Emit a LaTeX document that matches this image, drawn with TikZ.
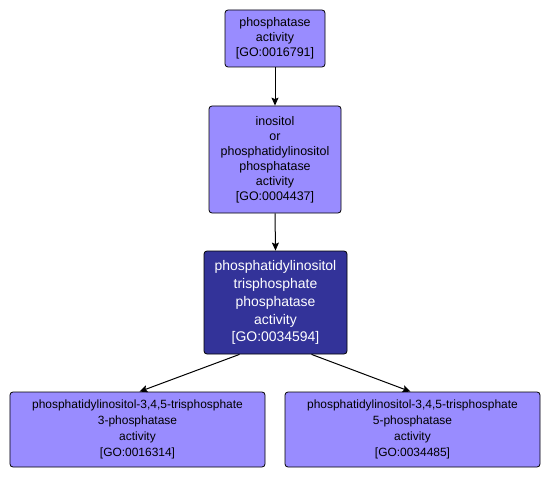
\documentclass[tikz,border=0pt]{standalone}
\usepackage{fontspec}
\setmainfont{Liberation Sans}
\usetikzlibrary{arrows.meta,positioning}
\definecolor{termfill}{RGB}{153,140,255}
\definecolor{focusfill}{RGB}{51,51,153}

\begin{document}
\begin{tikzpicture}[x=1bp, y=-1bp,
    term/.style={draw=black, line width=0.8bp, rounded corners=3bp, fill=termfill,
      align=center, inner sep=0pt, font=\fontsize{12.5}{15}\selectfont},
    focus/.style={term, fill=focusfill, text=white, font=\fontsize{14}{18}\selectfont},
    leaf/.style={term, minimum width=255bp, minimum height=75bp,
      font=\fontsize{12}{16}\selectfont},
    link/.style={-{Stealth[length=8bp, width=7bp, inset=1.5bp]}, line width=1bp, black}]
  \useasboundingbox (0,0) rectangle (552,477);

  % GO terms, placed where the layout put them
  \node[term, minimum width=100bp, minimum height=57bp] (phos) at (275,38.5)
    {phosphatase\\activity\\{[}GO:0016791{]}};
  \node[term, minimum width=132bp, minimum height=107bp] (inos) at (275,159.5)
    {inositol\\or\\phosphatidylinositol\\phosphatase\\activity\\{[}GO:0004437{]}};
  \node[focus, minimum width=143bp, minimum height=103bp] (tris) at (275.5,302.5)
    {phosphatidylinositol\\trisphosphate\\phosphatase\\activity\\{[}GO:0034594{]}};
  \node[leaf] (three) at (137.5,429.5)
    {phosphatidylinositol-3,4,5-trisphosphate\\3-phosphatase\\activity\\{[}GO:0016314{]}};
  \node[leaf] (five) at (412.5,429.5)
    {phosphatidylinositol-3,4,5-trisphosphate\\5-phosphatase\\activity\\{[}GO:0034485{]}};

  \draw[link] (phos.south) -- (inos.north);
  \draw[link] (inos.south) -- (tris.north);
  \draw[link] ([xshift=-36bp]tris.south) -- ([xshift=2bp]three.north);
  \draw[link] ([xshift=36bp]tris.south) -- ([xshift=-2bp]five.north);
\end{tikzpicture}
\end{document}
